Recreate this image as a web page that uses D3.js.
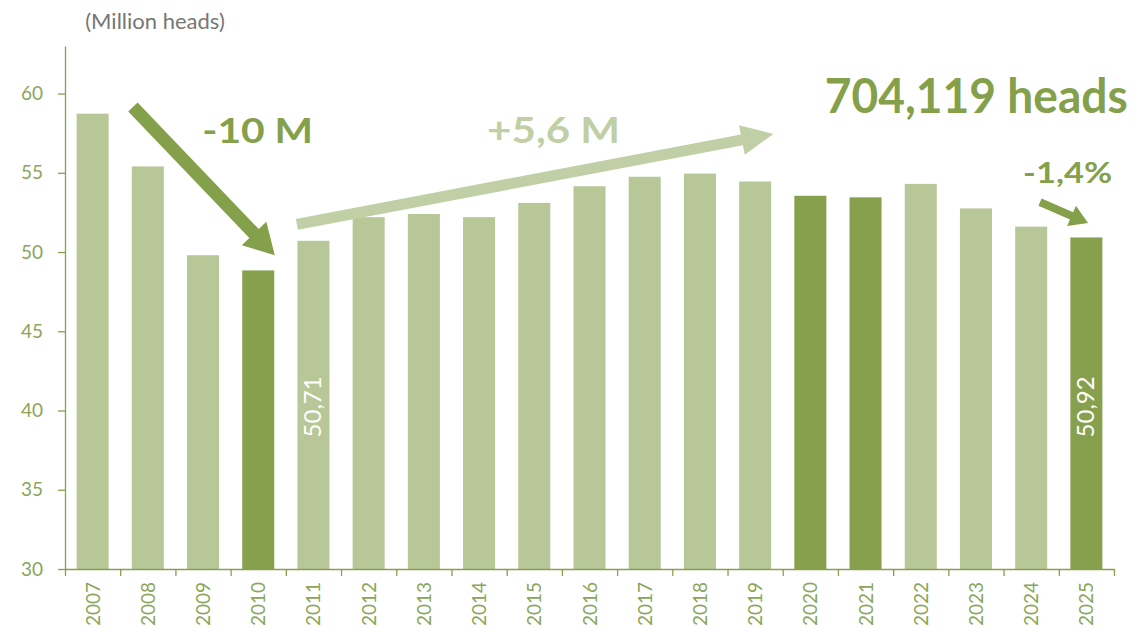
<!DOCTYPE html>
<html>
<head>
<meta charset="utf-8">
<script src="https://cdn.jsdelivr.net/npm/d3@7"></script>
<style>
  body { margin: 0; background: #fff; }
  svg { display: block; font-family: Lato, "Open Sans", sans-serif; }
</style>
</head>
<body>
<div id="chart"></div>
<script>
// data
const years = ["2007","2008","2009","2010","2011","2012","2013","2014","2015","2016","2017","2018","2019","2020","2021","2022","2023","2024","2025"];
const heads = [58.73, 55.4, 49.8, 48.84, 50.71, 52.2, 52.4, 52.2, 53.1, 54.15, 54.75, 54.95, 54.45, 53.55, 53.45, 54.3, 52.75, 51.6, 50.92];
const highlighted = ["2010", "2020", "2021", "2025"];
const yTicks = [30, 35, 40, 45, 50, 55, 60];
const barLabels = [ { year: "2011", text: "50,71" }, { year: "2025", text: "50,92" } ];

// arrows in [band position, value] units
const arrows = [
  { from: [1.23, 59.15], to: [3.80, 49.8], w: 13, hw: 34, hl: 30, color: "#84a04a" },
  { from: [4.20, 51.75], to: [12.83, 57.45], w: 11, hw: 30, hl: 32, color: "#c0cfa5" },
  { from: [17.66, 53.15], to: [18.53, 51.83], w: 8, hw: 22, hl: 18, color: "#84a04a" }
];
const notes = [
  { text: "-10 M", at: [3.49, 56.88], size: 35, len: 111, color: "#84a04a", anchor: "middle" },
  { text: "+5,6 M", at: [8.85, 56.88], size: 36, len: 133, color: "#c0cfa5", anchor: "middle" },
  { text: "704,119 heads", at: [19.25, 58.77], size: 47, len: 303, color: "#84a04a", anchor: "end" },
  { text: "-1,4%", at: [18.16, 54.36], size: 29, len: 89, color: "#84a04a", anchor: "middle" }
];

const W = 1135, H = 628;
const margin = { left: 65, right: 21, top: 46, bottom: 59 };

const svg = d3.select("#chart").append("svg")
  .attr("width", W).attr("height", H);

const x = d3.scaleBand()
  .domain(years)
  .range([margin.left, W - margin.right])
  .paddingInner(0.42)
  .paddingOuter(0.21);

const y = d3.scaleLinear()
  .domain([30, 63])
  .range([H - margin.bottom, margin.top]);

// continuous helper on the band positions
const xPos = d3.scaleLinear()
  .domain([0, years.length])
  .range(x.range());

const axisColor = "#86a04b";
const tickColor = "#8aa65a";

// bars
svg.selectAll(".bar")
  .data(years)
  .enter()
  .append("rect")
  .attr("class", "bar")
  .attr("x", d => x(d))
  .attr("width", x.bandwidth())
  .attr("y", (d, i) => y(heads[i]))
  .attr("height", (d, i) => y(30) - y(heads[i]))
  .attr("fill", d => highlighted.includes(d) ? "#87a04e" : "#b7c797");

// y axis
const yAxis = svg.append("g")
  .attr("transform", `translate(${margin.left},0)`)
  .call(d3.axisLeft(y).tickValues(yTicks).tickSize(7).tickSizeOuter(0));
yAxis.select(".domain").attr("stroke", axisColor).attr("stroke-width", 1.3);
yAxis.selectAll(".tick line").attr("stroke", axisColor).attr("stroke-width", 1.3);
yAxis.selectAll(".tick text")
  .attr("x", -22)
  .attr("fill", tickColor)
  .style("font-size", "19px")
  .style("font-family", "Lato, sans-serif");

// x axis: boundary ticks
const xTicks = svg.append("g")
  .attr("transform", `translate(0,${y(30)})`)
  .call(d3.axisBottom(xPos).tickValues(d3.range(years.length + 1)).tickFormat("").tickSize(7).tickSizeOuter(0));
xTicks.select(".domain").attr("stroke", axisColor).attr("stroke-width", 1.3);
xTicks.selectAll(".tick line").attr("stroke", axisColor).attr("stroke-width", 1.3);

// x labels, rotated
svg.append("g")
  .selectAll("text")
  .data(years)
  .enter()
  .append("text")
  .attr("transform", d => `translate(${x(d) + x.bandwidth() / 2 + 7},${y(30) + 13}) rotate(-90)`)
  .attr("text-anchor", "end")
  .attr("fill", tickColor)
  .style("font-size", "19px")
  .text(d => d);

// unit label
svg.append("text")
  .attr("x", 155)
  .attr("y", 29)
  .attr("text-anchor", "middle")
  .attr("fill", "#767676")
  .style("font-size", "22px")
  .text("(Million heads)");

// value labels inside bars
svg.append("g")
  .selectAll("text")
  .data(barLabels)
  .enter()
  .append("text")
  .attr("transform", d => `translate(${x(d.year) + x.bandwidth() / 2 + 8},${y(38.3)}) rotate(-90)`)
  .attr("text-anchor", "start")
  .attr("fill", "#ffffff")
  .style("font-size", "24px")
  .text(d => d.text);

// arrows
function arrowPath(a) {
  const x0 = xPos(a.from[0]), y0 = y(a.from[1]);
  const x1 = xPos(a.to[0]), y1 = y(a.to[1]);
  const len = Math.hypot(x1 - x0, y1 - y0);
  const ux = (x1 - x0) / len, uy = (y1 - y0) / len;
  const nx = -uy, ny = ux;
  const bx = x1 - ux * a.hl, by = y1 - uy * a.hl;
  const p = [
    [x0 + nx * a.w / 2, y0 + ny * a.w / 2],
    [bx + nx * a.w / 2, by + ny * a.w / 2],
    [bx + nx * a.hw / 2, by + ny * a.hw / 2],
    [x1, y1],
    [bx - nx * a.hw / 2, by - ny * a.hw / 2],
    [bx - nx * a.w / 2, by - ny * a.w / 2],
    [x0 - nx * a.w / 2, y0 - ny * a.w / 2]
  ];
  return d3.line()(p) + "Z";
}

svg.append("g")
  .selectAll("path")
  .data(arrows)
  .enter()
  .append("path")
  .attr("d", arrowPath)
  .attr("fill", d => d.color);

// annotation texts
svg.append("g")
  .selectAll("text")
  .data(notes)
  .enter()
  .append("text")
  .attr("x", d => xPos(d.at[0]))
  .attr("y", d => y(d.at[1]))
  .attr("text-anchor", d => d.anchor)
  .attr("textLength", d => d.len)
  .attr("lengthAdjust", "spacingAndGlyphs")
  .attr("fill", d => d.color)
  .style("font-size", d => d.size + "px")
  .style("font-weight", "bold")
  .text(d => d.text);
</script>
</body>
</html>
